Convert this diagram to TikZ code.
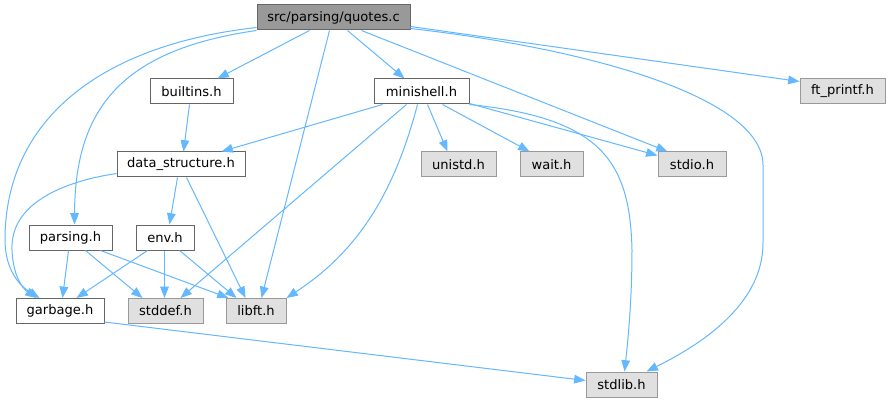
\documentclass[tikz,border=0pt]{standalone}
\usepackage{fontspec}
\setmainfont{DejaVu Sans}
\usetikzlibrary{arrows.meta,calc}
\definecolor{edgec}{HTML}{63B8FF}
\definecolor{bdark}{HTML}{666666}
\definecolor{blight}{HTML}{999999}
\definecolor{fgrey}{HTML}{E0E0E0}
\begin{document}
\begin{tikzpicture}[x=0.75pt,y=-0.75pt,
  base/.style={draw, rectangle, inner sep=0pt, line width=0.75pt, font=\fontsize{9.8}{12}\selectfont, minimum height=25*0.75pt},
  rootnode/.style={base, fill=blight, draw=bdark},
  hnode/.style={base, fill=white, draw=bdark},
  snode/.style={base, fill=fgrey, draw=blight},
  edge/.style={draw=edgec, line width=0.75pt, -{Triangle[length=8.5pt,width=6.5pt]}}]
\useasboundingbox (0,0) rectangle (890,403);
\fill[white] (0,0) rectangle (890,403);

\node[rootnode, minimum width=153*0.75pt] (q)  at (333.5,17.5) {src/parsing/quotes.c};
\node[hnode, minimum width=83*0.75pt]  (bi) at (191.5,91.5) {builtins.h};
\node[hnode, minimum width=95*0.75pt]  (ms) at (421.5,91.5) {minishell.h};
\node[snode, minimum width=85*0.75pt]  (ft) at (842.5,91.5) {ft\_printf.h};
\node[hnode, minimum width=128*0.75pt] (ds) at (181,164.5) {data\_structure.h};
\node[snode, minimum width=75*0.75pt]  (un) at (458.5,164.5) {unistd.h};
\node[snode, minimum width=63*0.75pt]  (wa) at (551.5,164.5) {wait.h};
\node[snode, minimum width=68*0.75pt]  (st) at (692,164.5) {stdio.h};
\node[hnode, minimum width=83*0.75pt]  (pa) at (70.5,237.5) {parsing.h};
\node[hnode, minimum width=58*0.75pt]  (en) at (165,237.5) {env.h};
\node[hnode, minimum width=88*0.75pt]  (ga) at (60,311) {garbage.h};
\node[snode, minimum width=75*0.75pt]  (sd) at (165.5,311) {stddef.h};
\node[snode, minimum width=60*0.75pt]  (lf) at (256,311) {libft.h};
\node[snode, minimum width=71*0.75pt]  (sl) at (621.5,384.5) {stdlib.h};

% quotes.c
\draw[edge] ($(q.south west)+(53,0)$) -- ($(bi.north west)+(68,0)$);
\draw[edge] ($(q.south west)+(91,0)$) -- ($(ms.north west)+(31,0)$);
\draw[edge] ($(q.south west)+(73,0)$) -- ($(lf.north west)+(36,0)$);
\draw[edge] ($(q.south west)+(105,0)$) -- ($(st.north west)+(10,0)$);
\draw[edge] ($(q.north east)+(0,22)$) -- ($(ft.north west)+(0,3)$);
\draw[edge] ($(q.north east)+(0,24)$) .. controls (600,50) and (763,100) .. (763,165) -- (763,243) .. controls (763,300) and (710,340) .. ($(sl.north west)+(61,0)$);
\draw[edge] (q.south west) .. controls (120,50) and (75,110) .. ($(pa.north west)+(46,0)$);
\draw[edge] ($(q.south west)+(0,-3)$) .. controls (100,45) and (5,120) .. (5,240) .. controls (5,270) and (20,286) .. ($(ga.north west)+(24,0)$);

% minishell.h
\draw[edge] ($(ms.south west)+(9,0)$) -- ($(ds.north west)+(105,0)$);
\draw[edge] ($(ms.south west)+(33,0)$) -- ($(sd.north west)+(53,0)$);
\draw[edge] ($(ms.south west)+(44,0)$) .. controls (395,190) and (360,250) .. (lf.north east);
\draw[edge] ($(ms.south west)+(54,0)$) -- ($(un.north west)+(27,0)$);
\draw[edge] ($(ms.south west)+(69,0)$) -- ($(wa.north west)+(10,0)$);
\draw[edge] ($(ms.south east)+(0,-1)$) -- ($(st.north west)+(0,4)$);
\draw[edge] (ms.south east) .. controls (600,118) and (630,160) .. (632,250) .. controls (632,300) and (628,340) .. ($(sl.north west)+(39,0)$);

% builtins.h, data_structure.h
\draw[edge] ($(bi.south west)+(40,0)$) -- ($(ds.north west)+(67,0)$);
\draw[edge] ($(ds.south west)+(61,0)$) -- ($(en.north west)+(34,0)$);
\draw[edge] ($(ds.south west)+(70,0)$) -- ($(lf.north west)+(20,0)$);
\draw[edge] ($(ds.south west)+(0,-4)$) .. controls (60,182) and (10,205) .. (12,250) .. controls (13,275) and (22,288) .. ($(ga.north west)+(21,0)$);

% parsing.h
\draw[edge] ($(pa.south west)+(40,0)$) -- ($(ga.north west)+(47,0)$);
\draw[edge] ($(pa.south west)+(57,0)$) -- ($(sd.north west)+(15,0)$);
\draw[edge] ($(pa.south west)+(72,0)$) -- ($(lf.north west)+(3,0)$);

% env.h
\draw[edge] ($(en.south west)+(12,0)$) -- ($(ga.north west)+(61,0)$);
\draw[edge] ($(en.south west)+(29,0)$) -- ($(sd.north west)+(37,0)$);
\draw[edge] ($(en.south west)+(44,0)$) -- ($(lf.north west)+(11,0)$);

% garbage.h
\draw[edge] ($(ga.south east)+(0,-2)$) -- ($(sl.north west)+(0,9)$);
\end{tikzpicture}
\end{document}
